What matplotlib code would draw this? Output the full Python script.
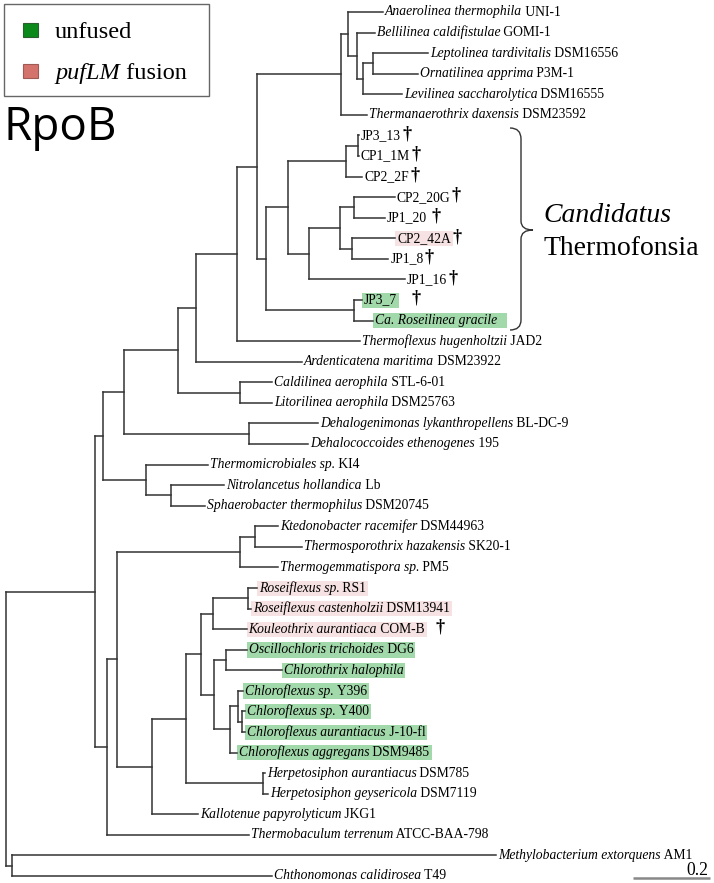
import matplotlib
matplotlib.use('Agg')
import matplotlib.pyplot as plt
import matplotlib.transforms as mtransforms
from matplotlib.collections import LineCollection
from matplotlib.patches import Rectangle, PathPatch
from matplotlib.path import Path

# ---------------- data ----------------
# tree topology with branch lengths (substitutions/site); leaves are indices into the label lists
anaerolineae = "((0:0.091,(1:0.047,((2:0.143,3:0.117):0.026,4:0.101):0.016):0.023):0.018,5:0.068)"
thermofonsia = ("((((6:0.003,7:0.003):0.031,8:0.042):0.151,"
                "(((9:0.106,10:0.081):0.036,(11:0.112,12:0.094):0.031):0.081,13:0.249):0.055):0.057,"
                "(14:0.021,15:0.049):0.229)")
clade_257 = f"({anaerolineae}:0.218,{thermofonsia}:0.023)"
clade_237 = f"({clade_257}:0.052,16:0.319)"
clade_196 = f"({clade_237}:0.106,17:0.275)"
clade_178 = f"({clade_196}:0.047,(18:0.083,19:0.083):0.161)"
clade_124 = f"({clade_178}:0.140,(20:0.179,21:0.153):0.325)"
clade_103 = f"({clade_124}:0.055,(22:0.161,(23:0.138,24:0.088):0.065):0.112)"
chloroflexaceae = ("(((28:0.023,29:0.008):0.091,30:0.088):0.031,"
                   "((31:0.055,32:0.145):0.031,((33:0.013,(34:0.008,35:0.008):0.010):0.021,36:0.018):0.042):0.034)")
clade_186 = f"({chloroflexaceae}:0.039,(37:0.005,38:0.013):0.200)"
clade_152 = f"({clade_186}:0.088,39:0.119)"
clade_117 = f"(((25:0.060,26:0.122):0.039,27:0.099):0.319,{clade_152}:0.091)"
clade_107 = f"({clade_117}:0.026,40:0.369)"
clade_95 = f"({clade_103}:0.021,{clade_107}:0.031)"
newick = f"({clade_95}:0.231,(41:1.258,42:0.675):0.016);"

leaf_italic = [
    "Anaerolinea thermophila", "Bellilinea caldifistulae", "Leptolinea tardivitalis",
    "Ornatilinea apprima", "Levilinea saccharolytica", "Thermanaerothrix daxensis",
    "", "", "", "", "", "", "", "", "", "Ca. Roseilinea gracile",
    "Thermoflexus hugenholtzii", "Ardenticatena maritima", "Caldilinea aerophila",
    "Litorilinea aerophila", "Dehalogenimonas lykanthropellens", "Dehalococcoides ethenogenes",
    "Thermomicrobiales sp.", "Nitrolancetus hollandica", "Sphaerobacter thermophilus",
    "Ktedonobacter racemifer", "Thermosporothrix hazakensis", "Thermogemmatispora sp.",
    "Roseiflexus sp.", "Roseiflexus castenholzii", "Kouleothrix aurantiaca",
    "Oscillochloris trichoides", "Chlorothrix halophila", "Chloroflexus sp.", "Chloroflexus sp.",
    "Chloroflexus aurantiacus", "Chloroflexus aggregans", "Herpetosiphon aurantiacus",
    "Herpetosiphon geysericola", "Kallotenue papyrolyticum", "Thermobaculum terrenum",
    "Methylobacterium extorquens", "Chthonomonas calidirosea"]
leaf_roman = [
    "UNI-1", "GOMI-1", "DSM16556", "P3M-1", "DSM16555", "DSM23592",
    "JP3_13", "CP1_1M", "CP2_2F", "CP2_20G", "JP1_20", "CP2_42A", "JP1_8", "JP1_16", "JP3_7", "",
    "JAD2", "DSM23922", "STL-6-01", "DSM25763", "BL-DC-9", "195", "KI4", "Lb", "DSM20745",
    "DSM44963", "SK20-1", "PM5", "RS1", "DSM13941", "COM-B", "DG6", "", "Y396", "Y400",
    "J-10-fl", "DSM9485", "DSM785", "DSM7119", "JKG1", "ATCC-BAA-798", "AM1", "T49"]

unfused_leaves = [14, 15, 31, 32, 33, 34, 35, 36]      # green
fusion_leaves = [11, 28, 29, 30]                       # pink
dagger_leaves = [6, 7, 8, 9, 10, 11, 12, 13, 14, 30]
clade_first, clade_last = 6, 15
clade_name = ("Candidatus", "Thermofonsia")
legend_labels = [("", "unfused"), ("pufLM", " fusion")]
scale_length = 0.2
panel_title = "RpoB"

# ---------------- layout / style ----------------
W, H = 714, 883
PX_PER_UNIT = 385.0
ROOT_PX = 6.0
TOP_PX = 12.0
ROW_PX = 20.571
SERIF = 'Liberation Serif'
LINE_COLOR = '#333333'
GREEN_BOX = '#a2d9aa'
PINK_BOX = '#f6e2e2'

fig = plt.figure(figsize=(W / 100, H / 100), dpi=100)
ax = fig.add_axes([0, 0, 1, 1])
ax.axis('off')
ax.set_xlim(-ROOT_PX / PX_PER_UNIT, (W - ROOT_PX) / PX_PER_UNIT)
ax.set_ylim((H - TOP_PX) / ROW_PX, -TOP_PX / ROW_PX)
PX = mtransforms.Affine2D().scale(1 / W, -1 / H).translate(0, 1) + fig.transFigure


def parse_newick(s):
    pos = 0

    def node():
        nonlocal pos
        children = []
        if s[pos] == '(':
            pos += 1
            while True:
                children.append(node())
                if s[pos] == ',':
                    pos += 1
                    continue
                if s[pos] == ')':
                    pos += 1
                    break
        name = ''
        while pos < len(s) and s[pos] not in ':,();':
            name += s[pos]
            pos += 1
        length = 0.0
        if pos < len(s) and s[pos] == ':':
            pos += 1
            num = ''
            while s[pos] not in ',();':
                num += s[pos]
                pos += 1
            length = float(num)
        return {'name': name, 'len': length, 'children': children}

    return node()


root = parse_newick(newick)
segments = []
tips = {}


def layout(n, x):
    n['x'] = x
    if not n['children']:
        n['y'] = float(int(n['name']))
        tips[int(n['name'])] = (x, n['y'])
        return
    for c in n['children']:
        layout(c, x + c['len'])
    ys = [c['y'] for c in n['children']]
    n['y'] = (ys[0] + ys[-1]) / 2
    segments.append([(x, ys[0]), (x, ys[-1])])
    for c in n['children']:
        segments.append([(x, c['y']), (c['x'], c['y'])])


layout(root, 0.0)
ax.add_collection(LineCollection(segments, colors=LINE_COLOR, linewidths=1.1,
                                 capstyle='projecting', zorder=2))

FS = 9.8
parts = {}
for i in range(len(leaf_italic)):
    x, y = tips[i]
    it, rm = leaf_italic[i], leaf_roman[i]
    items = []
    if it:
        t1 = ax.annotate(it, xy=(x, y), xytext=(1.4, 0), textcoords='offset points',
                         va='center', ha='left', fontsize=FS, family=SERIF, style='italic', zorder=4)
        items.append(t1)
        if rm:
            t2 = ax.annotate(' ' + rm, xy=(1, 0), xycoords=t1, va='bottom', ha='left',
                             fontsize=FS, family=SERIF, zorder=4)
            items.append(t2)
    else:
        t1 = ax.annotate(rm, xy=(x, y), xytext=(1.4, 0), textcoords='offset points',
                         va='center', ha='left', fontsize=FS, family=SERIF, zorder=4)
        items.append(t1)
    parts[i] = items

fig.canvas.draw()
renderer = fig.canvas.get_renderer()
inv = ax.transData.inverted()
box_end_px = {}
for leaves, col in ((unfused_leaves, GREEN_BOX), (fusion_leaves, PINK_BOX)):
    for i in leaves:
        exts = [t.get_window_extent(renderer) for t in parts[i]]
        x0 = min(e.x0 for e in exts) - 2
        x1 = max(e.x1 for e in exts) + (10 if leaf_italic[i].startswith('Ca.') else 2)
        box_end_px[i] = x1
        dx0 = inv.transform((x0, 0))[0]
        dx1 = inv.transform((x1, 0))[0]
        y = tips[i][1]
        ax.add_patch(Rectangle((dx0, y - 0.36), dx1 - dx0, 0.74, facecolor=col,
                               edgecolor='none', zorder=1))

dagger_gap = {10: 9, 14: 19, 30: 15}
for i in dagger_leaves:
    last = parts[i][-1]
    gap = dagger_gap.get(i, 6)
    ax.annotate('\u2020', xy=(1, 0.5), xycoords=last, xytext=(gap * 0.72, 1.2),
                textcoords='offset points', ha='center', va='center', fontsize=13,
                family=SERIF, weight='bold', zorder=4)

# clade bracket
verts = [(510, 128), (521, 128), (521, 139), (521, 221), (521, 230), (533, 230),
         (521, 230), (521, 239), (521, 320), (521, 330), (510, 330)]
codes = [Path.MOVETO, Path.CURVE3, Path.CURVE3, Path.LINETO, Path.CURVE3, Path.CURVE3,
         Path.CURVE3, Path.CURVE3, Path.LINETO, Path.CURVE3, Path.CURVE3]
ax.add_patch(PathPatch(Path(verts, codes), transform=PX, facecolor='none',
                       edgecolor=LINE_COLOR, lw=1.0, zorder=3))
ax.text(543, 222, clade_name[0], transform=PX, fontsize=20, family=SERIF, style='italic',
        va='baseline', ha='left')
ax.text(543, 255, clade_name[1], transform=PX, fontsize=20, family=SERIF,
        va='baseline', ha='left')

# legend
ax.add_patch(Rectangle((4, 4), 205, 92, transform=PX, facecolor='white', edgecolor='#666666',
                       lw=1.0, zorder=5))
ax.add_patch(Rectangle((23, 23), 15, 14, transform=PX, facecolor='#0b8a1a', edgecolor='#2d5e2d',
                       lw=0.8, zorder=6))
ax.add_patch(Rectangle((23, 64), 15, 14, transform=PX, facecolor='#d4736c', edgecolor='#a05a55',
                       lw=0.8, zorder=6))
for (it, rm), yb in zip(legend_labels, (38, 79)):
    if it:
        t = ax.text(55, yb, it, transform=PX, fontsize=17.5, family=SERIF, style='italic',
                    va='baseline', ha='left', zorder=7)
        ax.annotate(rm, xy=(1, 0), xycoords=t, va='bottom', ha='left', fontsize=17.5,
                    family=SERIF, zorder=7)
    else:
        ax.text(55, yb, rm, transform=PX, fontsize=17.5, family=SERIF, va='baseline',
                ha='left', zorder=7)

ax.text(4, 140, panel_title, transform=PX, fontsize=33, family='Open Sans', va='baseline',
        ha='left')

# scale bar
bar_end = (710 - ROOT_PX) / PX_PER_UNIT
bar_row = (878 - TOP_PX) / ROW_PX
ax.plot([bar_end - scale_length, bar_end], [bar_row, bar_row], color='#888888', lw=1.8,
        solid_capstyle='butt')
ax.text(708, 875, f"{scale_length}", transform=PX, fontsize=12.7, family=SERIF,
        va='baseline', ha='right')

fig.savefig('out.png', dpi=100)
